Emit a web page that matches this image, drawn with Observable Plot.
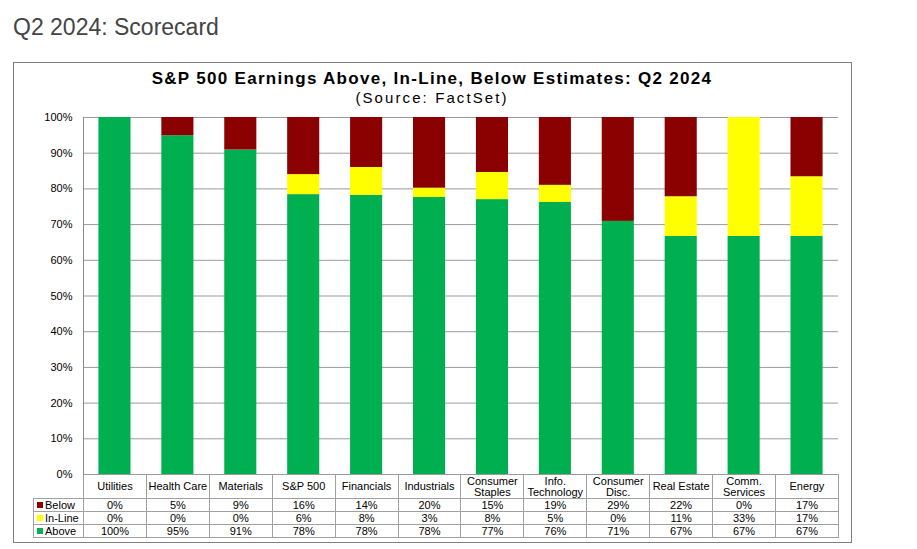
<!DOCTYPE html>
<html>
<head>
<meta charset="utf-8">
<script src="https://cdn.jsdelivr.net/npm/d3@7"></script>
<script src="https://cdn.jsdelivr.net/npm/@observablehq/plot@0.6"></script>
<style>
  body { margin: 0; background: #fff; font-family: "Liberation Sans", Arial, sans-serif; width: 917px; height: 549px; position: relative; overflow: hidden; }
  #pagetitle { position: absolute; left: 13px; top: 14px; font-size: 23px; color: #444; white-space: nowrap; }
  #box { position: absolute; left: 13px; top: 62px; width: 837px; height: 479px; border: 1px solid #808080; }
  #ctitle { position: absolute; left: 0; top: 69px; width: 864px; text-align: center; font-weight: bold; font-size: 17px; letter-spacing: 1.3px; color: #000; white-space: nowrap; }
  #csub { position: absolute; left: 0; top: 89px; width: 864px; text-align: center; font-size: 15px; letter-spacing: 2.1px; color: #000; white-space: nowrap; }
  #plot { position: absolute; left: 0; top: 100px; }
  #tbl { position: absolute; left: 33px; top: 474px; border-collapse: collapse; table-layout: fixed; font-size: 11px; color: #000; }
  #tbl td { border: 1px solid #a0a0a0; padding: 0; text-align: center; line-height: 12px; height: 12px; overflow: hidden; white-space: nowrap; }
  #tbl tr.hdr td { height: 23px; line-height: 11px; white-space: pre; }
  #tbl td.blank { border: none; border-right: 1px solid #a0a0a0; }
  #tbl td.leg { text-align: left; padding-left: 3px; }
  .sw { display: inline-block; width: 6px; height: 6px; margin-right: 2px; vertical-align: 1px; }
</style>
</head>
<body>
<div id="pagetitle">Q2 2024: Scorecard</div>
<div id="box"></div>
<div id="ctitle">S&amp;P 500 Earnings Above, In-Line, Below Estimates: Q2 2024</div>
<div id="csub">(Source: FactSet)</div>
<table id="tbl"></table>
<div id="plot"></div>
<script>
const categories = ["Utilities","Health Care","Materials","S&P 500","Financials","Industrials","Consumer Staples","Info. Technology","Consumer Disc.","Real Estate","Comm. Services","Energy"];
const headerLabels = ["Utilities","Health Care","Materials","S&P 500","Financials","Industrials","Consumer\nStaples","Info.\nTechnology","Consumer\nDisc.","Real Estate","Comm.\nServices","Energy"];
const above  = [100, 94.9, 90.9, 78.4, 78.2, 77.6, 77.0, 76.2, 70.9, 66.7, 66.7, 66.7];
const inline = [0, 0, 0, 5.6, 7.8, 2.6, 7.6, 4.8, 0, 11.1, 33.3, 16.7];
const below  = [0, 5.1, 9.1, 16.0, 14.0, 19.8, 15.4, 19.0, 29.1, 22.2, 0, 16.6];
const statuses = ["Above","In-Line","Below"];
const colors = ["#00b050","#ffff00","#8b0000"];
const yTicks = [0,10,20,30,40,50,60,70,80,90,100];

const rows = [];
categories.forEach((c, i) => {
  rows.push({cat: c, status: "Above", v: above[i]});
  rows.push({cat: c, status: "In-Line", v: inline[i]});
  rows.push({cat: c, status: "Below", v: below[i]});
});

const chart = Plot.plot({
  width: 917,
  height: 386,
  marginTop: 17,
  marginBottom: 12,
  marginLeft: 83,
  marginRight: 79,
  style: {fontFamily: "'Liberation Sans', Arial, sans-serif", fontSize: "11px", color: "#000", background: "transparent", overflow: "visible"},
  x: {domain: categories, paddingInner: 0.49, paddingOuter: 0.245, round: false, axis: null},
  y: {domain: [0, 100], label: null},
  color: {domain: statuses, range: colors},
  marks: [
    Plot.gridY(yTicks, {stroke: "#9a9a9a", strokeOpacity: 1, strokeWidth: 1}),
    Plot.frame({anchor: "left", stroke: "#8a8a8a"}),
    Plot.barY(rows, {x: "cat", y: "v", fill: "status", order: statuses}),
    Plot.axisY(yTicks, {tickSize: 0, tickPadding: 11, tickFormat: d => d + "%", fill: "#000", label: null})
  ]
});
document.getElementById("plot").appendChild(chart);

// data table
const tbl = document.getElementById("tbl");
const colW = (917 - 83 - 79) / categories.length;
let html = '<colgroup><col style="width:50px">' + categories.map(() => `<col style="width:${colW}px">`).join("") + '</colgroup>';
html += '<tr class="hdr"><td class="blank"></td>' + headerLabels.map(h => `<td>${h}</td>`).join("") + '</tr>';
const tableRows = [["Below", below, colors[2]], ["In-Line", inline, colors[1]], ["Above", above, colors[0]]];
for (const [name, vals, col] of tableRows) {
  html += `<tr><td class="leg"><span class="sw" style="background:${col}"></span>${name}</td>` + vals.map(v => `<td>${Math.round(v)}%</td>`).join("") + '</tr>';
}
tbl.innerHTML = html;
tbl.style.width = (50 + colW * categories.length) + "px";
</script>
</body>
</html>
